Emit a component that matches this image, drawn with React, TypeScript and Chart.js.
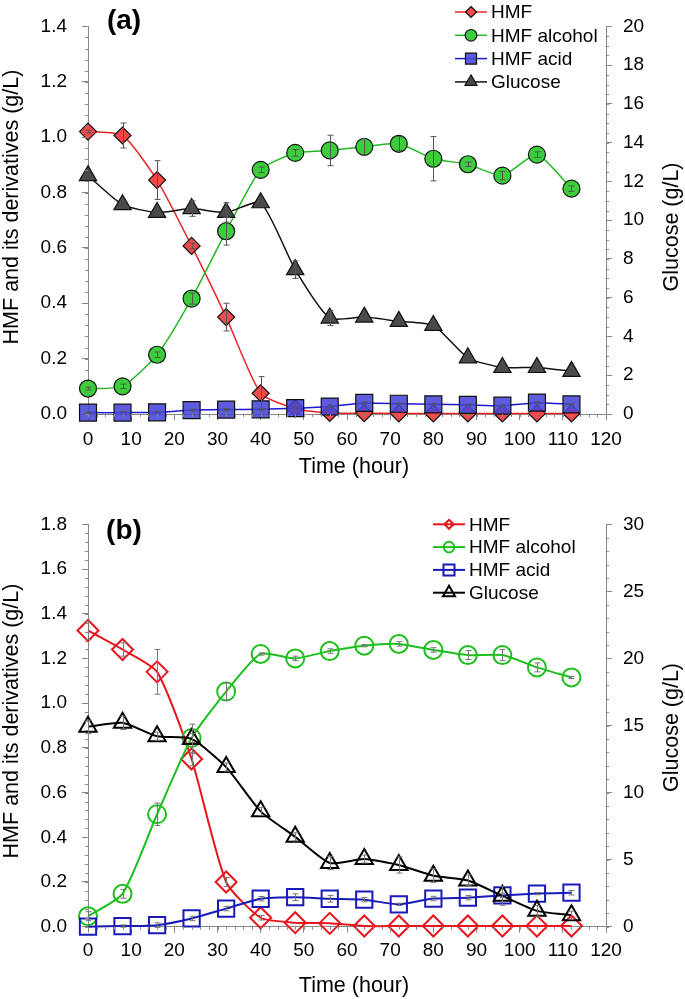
import React, { useEffect, useRef } from 'react';
import { Chart, registerables } from 'chart.js';
Chart.register(...registerables);

const FONT = "'Liberation Sans', Arial, Helvetica, sans-serif";

// ---------- data ----------
const hours = [0, 8, 16, 24, 32, 40, 48, 56, 64, 72, 80, 88, 96, 104, 112];
const seriesNames = ['HMF', 'HMF alcohol', 'HMF acid', 'Glucose'];

// Panel (a)
const hmfA = [1.02, 1.006, 0.845, 0.607, 0.35, 0.075, 0.02, 0.004, 0.003, 0.002, 0.002, 0.002, 0.002, 0.002, 0.002];
const hmfErrA = [0.005, 0.045, 0.07, 0.01, 0.05, 0.06, 0, 0, 0, 0, 0, 0, 0, 0, 0];
const alcA = [0.092, 0.1, 0.214, 0.417, 0.66, 0.882, 0.943, 0.952, 0.965, 0.976, 0.922, 0.902, 0.861, 0.937, 0.814];
const alcErrA = [0.005, 0.008, 0.01, 0.02, 0.05, 0.01, 0.012, 0.055, 0.03, 0.025, 0.08, 0.008, 0.015, 0.01, 0.01];
const acidA = [0.005, 0.005, 0.006, 0.014, 0.016, 0.017, 0.021, 0.027, 0.04, 0.037, 0.035, 0.033, 0.03, 0.041, 0.035];
const acidErrA = [0.003, 0.005, 0.004, 0.003, 0.003, 0.003, 0.004, 0.004, 0.004, 0.003, 0.003, 0.003, 0.003, 0.004, 0.003];
const glucA = [12.3, 10.8, 10.4, 10.6, 10.4, 10.9, 7.45, 4.95, 5.0, 4.78, 4.57, 2.9, 2.4, 2.4, 2.2];
const glucErrA = [0, 0, 0, 0.4, 0.5, 0, 0.45, 0.38, 0, 0, 0, 0, 0, 0, 0];

// Panel (b)
const hmfB = [1.325, 1.24, 1.14, 0.75, 0.2, 0.04, 0.018, 0.015, 0.003, 0.003, 0.003, 0.003, 0.003, 0.003, 0.003];
const hmfErrB = [0.04, 0.03, 0.1, 0.03, 0.02, 0.01, 0, 0, 0, 0, 0, 0, 0, 0, 0];
const alcB = [0.047, 0.147, 0.503, 0.844, 1.052, 1.22, 1.2, 1.233, 1.257, 1.265, 1.238, 1.215, 1.215, 1.16, 1.115];
const alcErrB = [0.02, 0.02, 0.05, 0.02, 0.04, 0.005, 0.01, 0.01, 0.005, 0.01, 0.01, 0.02, 0.025, 0.02, 0.005];
const acidB = [0.0, 0.003, 0.007, 0.037, 0.081, 0.125, 0.132, 0.125, 0.121, 0.1, 0.126, 0.13, 0.14, 0.148, 0.152];
const acidErrB = [0, 0.005, 0.01, 0.01, 0.01, 0.01, 0.015, 0.015, 0.01, 0.005, 0.01, 0.01, 0.01, 0.005, 0.01];
const glucB = [14.9, 15.2, 14.2, 14.0, 11.9, 8.6, 6.7, 4.75, 5.05, 4.6, 3.8, 3.45, 2.3, 1.18, 0.86];
const glucErrB = [0.5, 0.5, 0.3, 1.1, 0.3, 0.3, 0.3, 0.5, 0.3, 0.6, 0.5, 0.4, 0.7, 0.4, 0.3];

// tick settings
const xTicks = { min: 0, max: 120, step: 10, minor: 2 };
const leftTicksA = { min: 0, max: 1.4, step: 0.2, minor: 0.04 };
const rightTicksA = { min: 0, max: 20, step: 2, minor: 0.5 };
const leftTicksB = { min: 0, max: 1.8, step: 0.2, minor: 0.04 };
const rightTicksB = { min: 0, max: 30, step: 5, minor: 1 };

// ---------- helpers ----------
function drawMarker(ctx: CanvasRenderingContext2D, style: string, x: number, y: number, r: number, fill: string, stroke: string, lw: number) {
  ctx.save();
  ctx.beginPath();
  if (style === 'circle') {
    ctx.arc(x, y, r, 0, Math.PI * 2);
  } else if (style === 'rectRot') {
    ctx.moveTo(x, y - r); ctx.lineTo(x + r, y); ctx.lineTo(x, y + r); ctx.lineTo(x - r, y); ctx.closePath();
  } else if (style === 'rect') {
    const s = r * Math.SQRT1_2;
    ctx.rect(x - s, y - s, 2 * s, 2 * s);
  } else if (style === 'triangle') {
    for (let k = 0; k < 3; k++) {
      const a = (k * 2 * Math.PI) / 3;
      const px = x + Math.sin(a) * r, py = y - Math.cos(a) * r;
      if (k === 0) ctx.moveTo(px, py); else ctx.lineTo(px, py);
    }
    ctx.closePath();
  }
  ctx.fillStyle = fill; ctx.fill();
  ctx.lineWidth = lw; ctx.strokeStyle = stroke; ctx.stroke();
  ctx.restore();
}

const minorTicksPlugin = {
  id: 'minorTicks',
  afterDraw(chart: any, _a: any, opts: any) {
    const ctx = chart.ctx;
    ctx.save();
    ctx.strokeStyle = opts.color; ctx.lineWidth = 1;
    for (const id of Object.keys(opts.steps)) {
      const sc = chart.scales[id];
      const step = opts.steps[id];
      const n = Math.round((sc.max - sc.min) / step);
      for (let i = 0; i <= n; i++) {
        const p = Math.round(sc.getPixelForValue(sc.min + i * step)) + 0.5;
        ctx.beginPath();
        if (sc.isHorizontal()) { ctx.moveTo(p, sc.top); ctx.lineTo(p, sc.top + opts.len); }
        else if (sc.position === 'left') { ctx.moveTo(sc.right, p); ctx.lineTo(sc.right - opts.len, p); }
        else { ctx.moveTo(sc.left, p); ctx.lineTo(sc.left + opts.len, p); }
        ctx.stroke();
      }
    }
    ctx.restore();
  },
};

const errorBarsPlugin = {
  id: 'errorBars',
  afterDatasetsDraw(chart: any, _a: any, opts: any) {
    const ctx = chart.ctx;
    ctx.save();
    ctx.strokeStyle = opts.color; ctx.lineWidth = 1;
    chart.data.datasets.forEach((ds: any, i: number) => {
      if (!ds.errors) return;
      const meta = chart.getDatasetMeta(i);
      const ys = chart.scales[ds.yAxisID];
      meta.data.forEach((pt: any, j: number) => {
        const e = ds.errors[j];
        if (!e) return;
        const v = ds.data[j].y;
        const top = ys.getPixelForValue(v + e);
        const bot = ys.getPixelForValue(v - e);
        const x = Math.round(pt.x) + 0.5;
        ctx.beginPath();
        ctx.moveTo(x, top); ctx.lineTo(x, bot);
        ctx.moveTo(x - opts.cap, top); ctx.lineTo(x + opts.cap, top);
        ctx.moveTo(x - opts.cap, bot); ctx.lineTo(x + opts.cap, bot);
        ctx.stroke();
      });
    });
    ctx.restore();
  },
};

const legendPlugin = {
  id: 'customLegend',
  afterDraw(chart: any, _a: any, opts: any) {
    const ctx = chart.ctx;
    ctx.save();
    ctx.font = `${opts.fontSize}px ${FONT}`;
    ctx.textBaseline = 'middle';
    ctx.textAlign = 'left';
    chart.data.datasets.forEach((ds: any, i: number) => {
      const y = opts.y0 + i * opts.dy;
      ctx.beginPath();
      ctx.strokeStyle = ds.borderColor; ctx.lineWidth = ds.borderWidth;
      ctx.moveTo(opts.x0, y); ctx.lineTo(opts.x1, y); ctx.stroke();
      drawMarker(ctx, ds.pointStyle, (opts.x0 + opts.x1) / 2, y, opts.radii[i], ds.pointBackgroundColor, ds.pointBorderColor, ds.pointBorderWidth);
      ctx.fillStyle = '#000';
      ctx.fillText(ds.label, opts.tx, y + 1);
    });
    ctx.restore();
  },
};

const textsPlugin = {
  id: 'texts',
  afterDraw(chart: any, _a: any, opts: any) {
    const ctx = chart.ctx;
    ctx.save();
    ctx.fillStyle = '#000';
    ctx.textAlign = 'center';
    ctx.textBaseline = 'middle';
    for (const t of opts.items) {
      ctx.save();
      ctx.translate(t.x, t.y);
      ctx.rotate(t.rot || 0);
      ctx.font = `${t.bold ? 'bold ' : ''}${t.size}px ${FONT}`;
      ctx.fillText(t.text, 0, 0);
      ctx.restore();
    }
    ctx.restore();
  },
};

function pts(ys: number[]) {
  return hours.map((h, i) => ({ x: h, y: ys[i] }));
}

function makeDataset(label: string, ys: number[], errs: number[], axis: string, style: string, radius: number, line: string, fill: string, border: string, bw: number, lw: number, order: number) {
  return {
    label,
    data: pts(ys),
    errors: errs,
    yAxisID: axis,
    borderColor: line,
    borderWidth: lw,
    pointStyle: style,
    pointRadius: radius,
    pointBackgroundColor: fill,
    pointBorderColor: border,
    pointBorderWidth: bw,
    tension: 0.2,
    clip: false,
    order,
  };
}

function axisCfg(t: any, pos: string, fmt: (v: number) => string, padding: number, fit: (s: any) => void) {
  return {
    type: 'linear',
    position: pos,
    min: t.min,
    max: t.max,
    ticks: { stepSize: t.step, color: '#000', font: { size: 19, family: FONT }, padding, callback: (v: any) => fmt(Number(v)), autoSkip: false, maxRotation: 0 },
    grid: { display: true, drawOnChartArea: false, drawTicks: true, tickLength: 6, color: '#888' },
    border: { display: true, color: '#888', width: 1 },
    afterFit: fit,
  };
}

function makeConfig(p: any) {
  return {
    type: 'line',
    data: { datasets: p.datasets },
    options: {
      animation: false,
      responsive: false,
      layout: { padding: { top: p.top, left: 0, right: 0, bottom: 0 } },
      scales: {
        x: axisCfg(xTicks, 'bottom', (v) => String(v), p.xPad, (s: any) => { s.height = p.xH; }),
        y: axisCfg(p.left, 'left', (v) => v.toFixed(1), 15, (s: any) => { s.width = 88; }),
        y2: axisCfg(p.right, 'right', (v) => String(v), 11, (s: any) => { s.width = 79; }),
      },
      plugins: {
        legend: { display: false },
        tooltip: { enabled: false },
        minorTicks: { color: '#888', len: 3, steps: { x: xTicks.minor, y: p.left.minor, y2: p.right.minor } },
        errorBars: { color: p.errColor, cap: 3 },
        customLegend: p.legend,
        texts: { items: p.texts },
      },
    },
    plugins: [minorTicksPlugin, errorBarsPlugin, legendPlugin, textsPlugin],
  };
}

function configA() {
  const datasets = [
    makeDataset(seriesNames[0], hmfA, hmfErrA, 'y', 'rectRot', 8.5, '#e8262a', '#f24a4a', '#111', 1.2, 1.5, 3),
    makeDataset(seriesNames[1], alcA, alcErrA, 'y', 'circle', 8.5, '#22b822', '#3ccc3c', '#111', 1.2, 1.5, 2),
    makeDataset(seriesNames[2], acidA, acidErrA, 'y', 'rect', 12, '#1a1ad0', 'rgba(70,70,215,0.88)', '#111', 1.2, 1.5, 1),
    makeDataset(seriesNames[3], glucA, glucErrA, 'y2', 'triangle', 10, '#111', '#4a4a4a', '#111', 1.2, 1.5, 0),
  ];
  return makeConfig({
    datasets,
    top: 12.7,
    xH: 76,
    xPad: 8,
    left: leftTicksA,
    right: rightTicksA,
    errColor: '#555',
    legend: { x0: 455, x1: 487, tx: 491, y0: 12, dy: 23.3, fontSize: 19, radii: [5.5, 5.8, 7.8, 7] },
    texts: [
      { text: '(a)', x: 124, y: 21, size: 28, bold: true },
      { text: 'Time (hour)', x: 354, y: 467, size: 21.5 },
      { text: 'HMF and its derivatives (g/L)', x: 12, y: 207, size: 21.5, rot: -Math.PI / 2 },
      { text: 'Glucose (g/L)', x: 672, y: 227, size: 21.5, rot: -Math.PI / 2 },
    ],
  });
}

function configB() {
  const none = 'rgba(0,0,0,0)';
  const datasets = [
    makeDataset(seriesNames[0], hmfB, hmfErrB, 'y', 'rectRot', 10.5, '#e8161c', none, '#e8161c', 2, 2, 3),
    makeDataset(seriesNames[1], alcB, alcErrB, 'y', 'circle', 9, '#1dbf1d', none, '#1dbf1d', 2, 2, 2),
    makeDataset(seriesNames[2], acidB, acidErrB, 'y', 'rect', 11.5, '#1a1ab8', none, '#1a1ab8', 2, 2, 1),
    makeDataset(seriesNames[3], glucB, glucErrB, 'y2', 'triangle', 10, '#000', none, '#000', 2, 2, 0),
  ];
  return makeConfig({
    datasets,
    top: 34.3,
    xH: 72.3,
    xPad: 7,
    left: leftTicksB,
    right: rightTicksB,
    errColor: '#777',
    legend: { x0: 433, x1: 465, tx: 469, y0: 34.3, dy: 22.8, fontSize: 19, radii: [4.5, 5.3, 7.8, 7] },
    texts: [
      { text: '(b)', x: 124, y: 41, size: 28, bold: true },
      { text: 'Time (hour)', x: 354, y: 496, size: 21.5 },
      { text: 'HMF and its derivatives (g/L)', x: 12, y: 231, size: 21.5, rot: -Math.PI / 2 },
      { text: 'Glucose (g/L)', x: 672, y: 237.5, size: 21.5, rot: -Math.PI / 2 },
    ],
  });
}

function Panel({ make, width, height }: { make: () => any; width: number; height: number }) {
  const ref = useRef<HTMLCanvasElement | null>(null);
  useEffect(() => {
    if (!ref.current) return;
    const c = new Chart(ref.current, make());
    return () => c.destroy();
  }, []);
  return <canvas ref={ref} width={width} height={height} style={{ display: 'block', width, height }} />;
}

export default function App() {
  return (
    <div style={{ position: 'absolute', left: 0, top: 0, width: 685, height: 999, background: '#fff' }}>
      <Panel make={configA} width={685} height={490} />
      <Panel make={configB} width={685} height={509} />
    </div>
  );
}
